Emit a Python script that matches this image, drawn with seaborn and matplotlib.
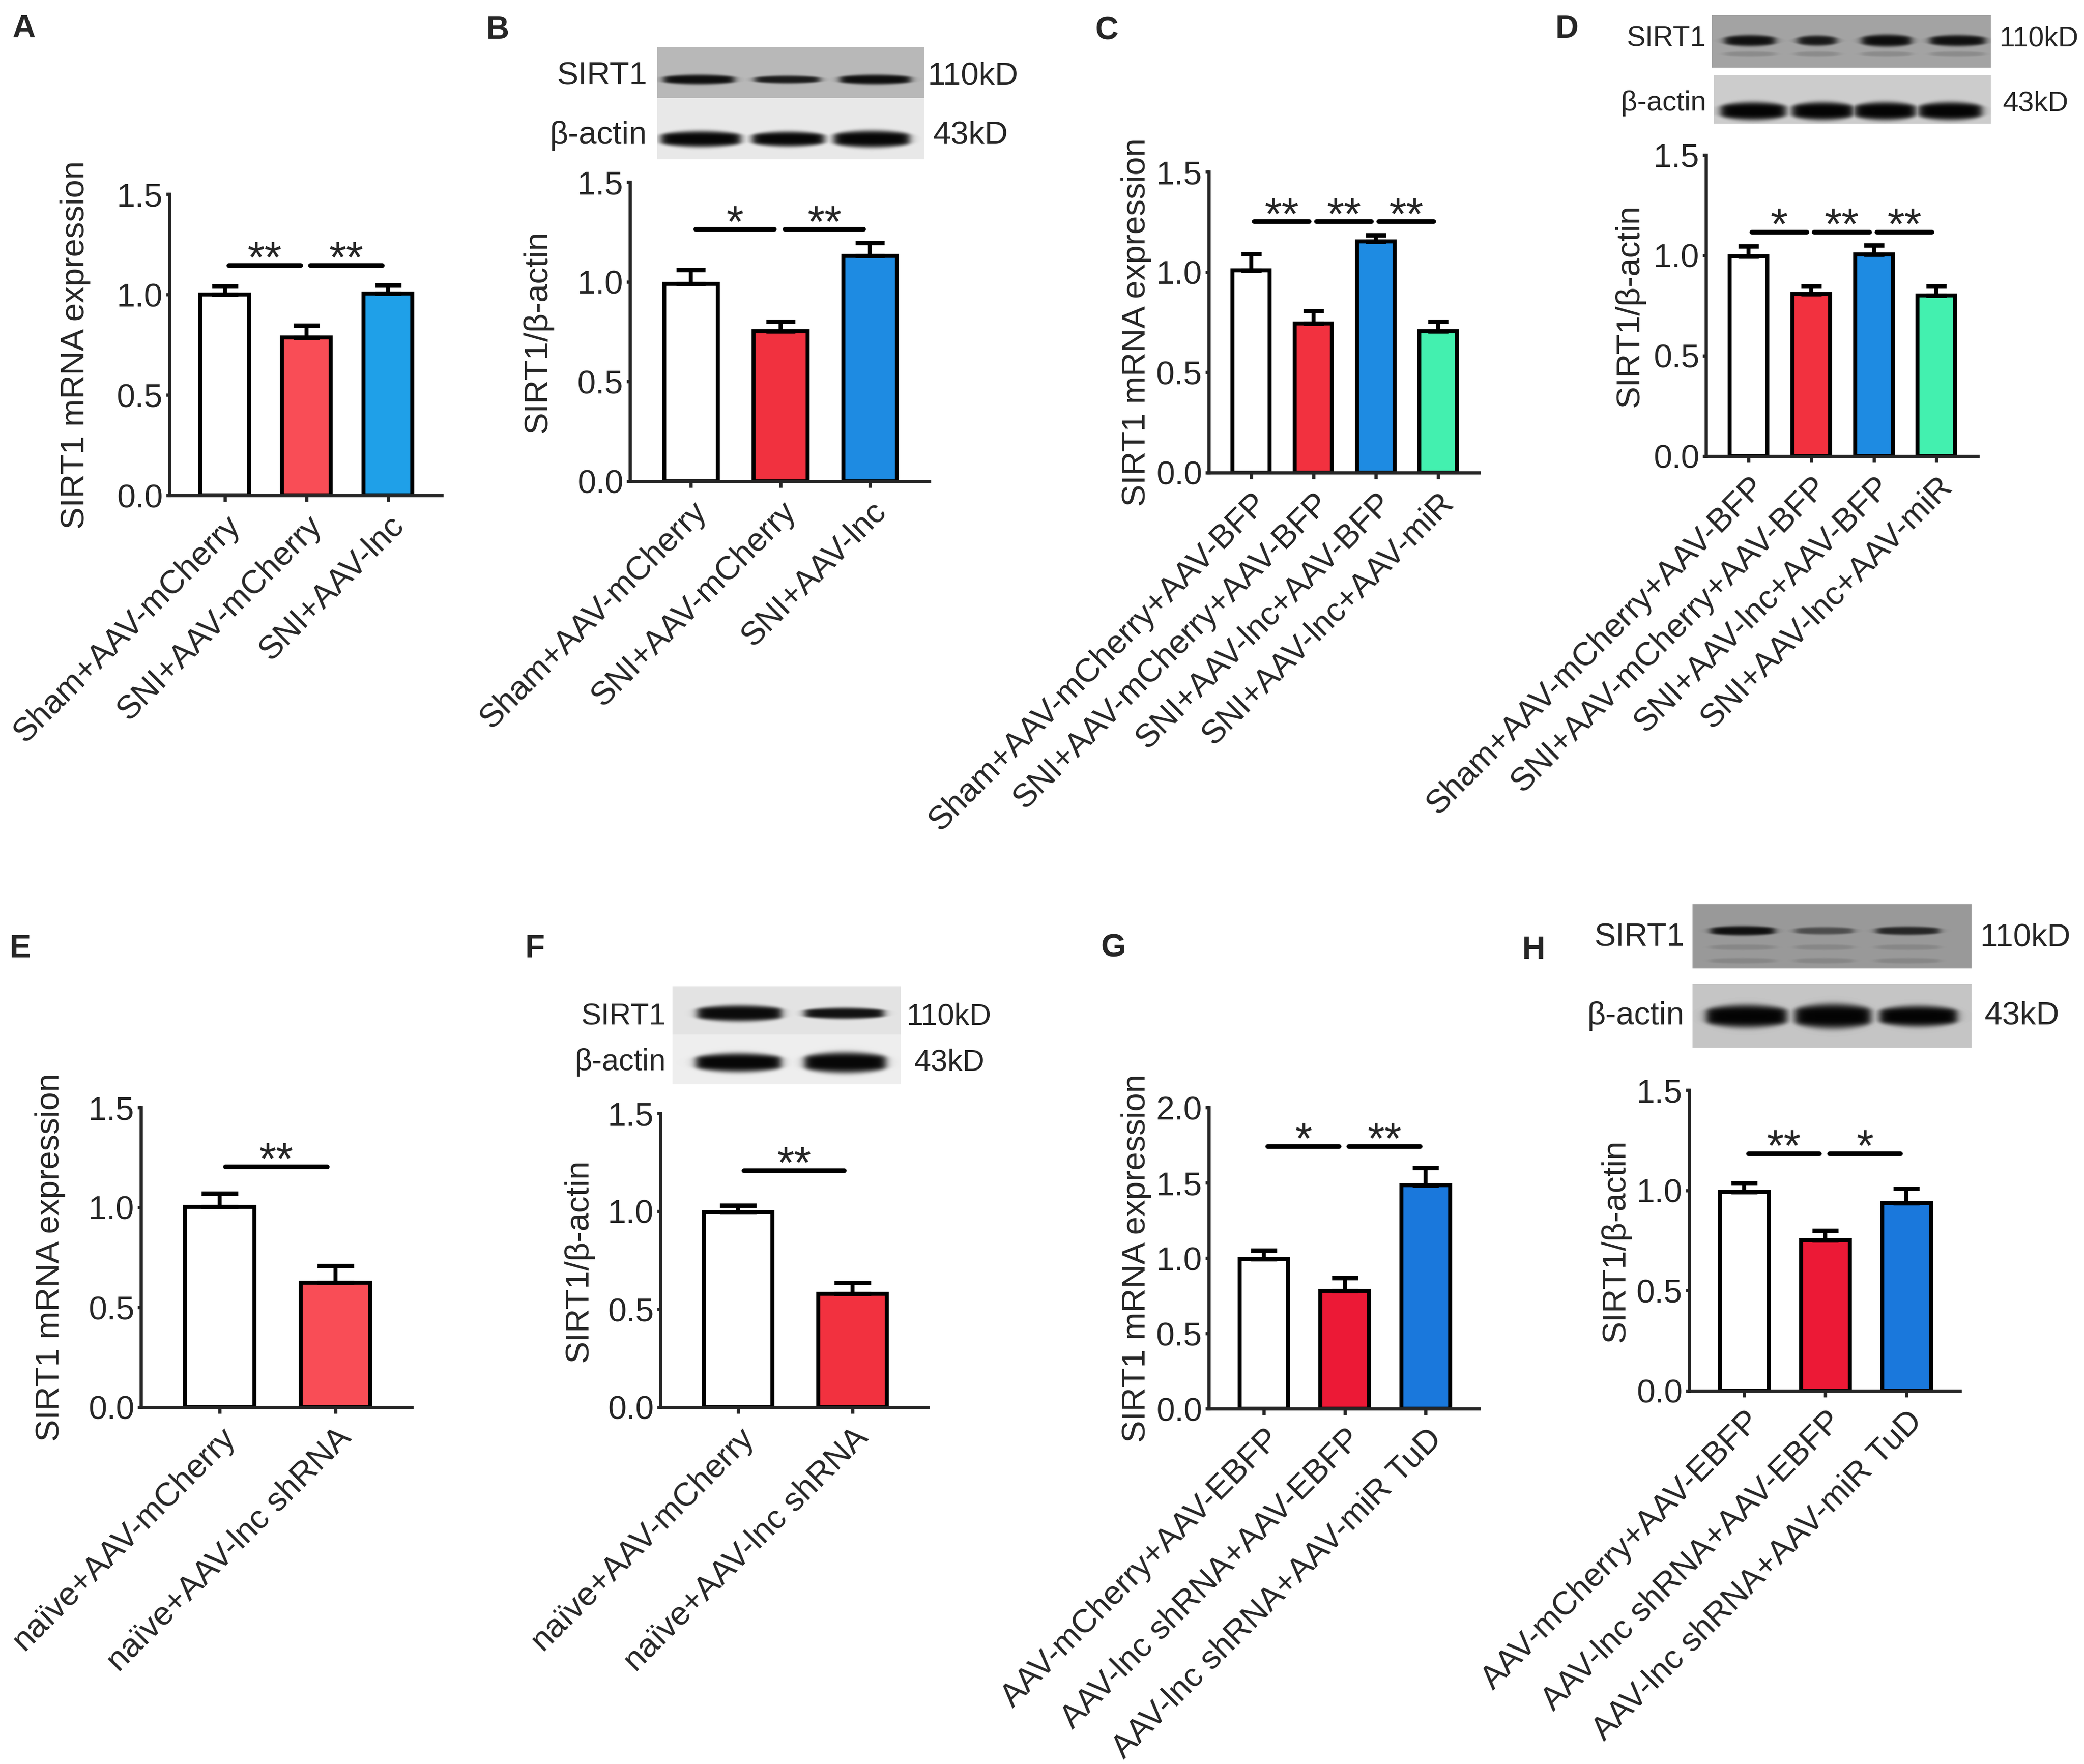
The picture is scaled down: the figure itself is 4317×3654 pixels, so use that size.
import numpy as np
import pandas as pd
import matplotlib
matplotlib.use("Agg")
import matplotlib.pyplot as plt
import seaborn as sns

W, H = 4317, 3654
DPI = 300

sns.set_style("ticks")
plt.rcParams["font.family"] = ["Liberation Sans", "DejaVu Sans"]

# group names on the x axes
groups_AB = ["Sham+AAV-mCherry", "SNI+AAV-mCherry", "SNI+AAV-lnc"]
groups_CD = ["Sham+AAV-mCherry+AAV-BFP", "SNI+AAV-mCherry+AAV-BFP",
             "SNI+AAV-lnc+AAV-BFP", "SNI+AAV-lnc+AAV-miR"]
groups_EF = ["naïve+AAV-mCherry", "naïve+AAV-lnc shRNA"]
groups_GH = ["AAV-mCherry+AAV-EBFP", "AAV-lnc shRNA+AAV-EBFP",
             "AAV-lnc shRNA+AAV-miR TuD"]

# bar heights (mean) and upper error (SEM)
mean_A = [1.00, 0.785, 1.005]
sem_A = [0.04, 0.06, 0.04]
mean_B = [0.99, 0.752, 1.13]
sem_B = [0.07, 0.05, 0.065]
mean_C = [1.01, 0.744, 1.154, 0.705]
sem_C = [0.08, 0.063, 0.03, 0.048]
mean_D = [0.994, 0.808, 1.004, 0.80]
sem_D = [0.051, 0.039, 0.046, 0.047]
mean_E = [1.002, 0.623]
sem_E = [0.068, 0.085]
mean_F = [0.995, 0.578]
sem_F = [0.035, 0.058]
mean_G = [0.995, 0.782, 1.485]
sem_G = [0.056, 0.085, 0.115]
mean_H = [0.993, 0.752, 0.937]
sem_H = [0.043, 0.048, 0.072]

# significance brackets (left bar, right bar, stars) and their height
sig_A = [(0, 1, "**"), (1, 2, "**")]
sig_B = [(0, 1, "*"), (1, 2, "**")]
sig_C = [(0, 1, "**"), (1, 2, "**"), (2, 3, "**")]
sig_D = [(0, 1, "*"), (1, 2, "**"), (2, 3, "**")]
sig_E = [(0, 1, "**")]
sig_F = [(0, 1, "**")]
sig_G = [(0, 1, "*"), (1, 2, "**")]
sig_H = [(0, 1, "**"), (1, 2, "*")]
sig_y = {"A": 1.145, "B": 1.262, "C": 1.251, "D": 1.116,
         "E": 1.203, "F": 1.207, "G": 1.741, "H": 1.183}

# bar colours
col_A = ["#FFFFFF", "#F94D56", "#1FA0E8"]
col_B = ["#FFFFFF", "#F1313F", "#1E8BE2"]
col_C = ["#FFFFFF", "#F2313F", "#1E8BE2", "#43F0AF"]
col_E = ["#FFFFFF", "#F94D56"]
col_F = ["#FFFFFF", "#F2313F"]
col_G = ["#FFFFFF", "#EC1936", "#1A78DC"]

mrna = "SIRT1 mRNA expression"
ratio = "SIRT1/β-actin"

fig = plt.figure(figsize=(W / DPI, H / DPI), dpi=DPI)
fig.patch.set_facecolor("white")


def px_rect(l, t, r, b):
    return [l / W, 1 - b / H, (r - l) / W, (b - t) / H]


def draw_panel(letter, groups, means, sems, colors, sig, ymax, ystep, ylabel,
               rect, ylab_x, letter_xy):
    ax = fig.add_axes(px_rect(*rect))
    df = pd.DataFrame({"group": groups, "value": means})
    sns.barplot(data=df, x="group", y="value", hue="group",
                palette=dict(zip(groups, colors)), legend=False, width=0.6,
                edgecolor="black", linewidth=2.0, errorbar=None,
                saturation=1, ax=ax)
    n = len(groups)
    x = np.arange(n)
    left_pad, right_pad = 0.68, 0.66
    spacing = (rect[2] - rect[0]) / (n - 1 + left_pad + right_pad)
    cap = 0.16 * spacing * 72 / DPI
    ax.errorbar(x, means, yerr=[np.zeros(n), sems], fmt="none",
                ecolor="black", elinewidth=2.0, capsize=cap, capthick=2.2,
                zorder=3)

    ys = sig_y[letter]
    for i, j, stars in sig:
        ax.plot([i + 0.05, j - 0.07], [ys, ys], color="black", lw=2.3,
                solid_capstyle="round", zorder=4)
        ax.annotate(stars, xy=((i + j) / 2 - 0.01, ys), xytext=(0, -3.5),
                    textcoords="offset points", ha="center", va="baseline",
                    fontsize=22)

    ax.set_xlim(-left_pad, n - 1 + right_pad)
    ax.set_ylim(0, ymax)
    ticks = np.arange(0, ymax + 1e-6, ystep)
    ax.set_yticks(ticks)
    ax.set_yticklabels([f"{t:.1f}" for t in ticks])
    ax.set_xticks(x)
    ax.set_xticklabels(groups, rotation=45, ha="right", rotation_mode="anchor")
    ax.set_xlabel("")
    ax.set_ylabel(ylabel, fontsize=16.5)
    ax.yaxis.set_label_coords((ylab_x + 38 - rect[0]) / (rect[2] - rect[0]), 0.5)
    sns.despine(ax=ax)
    for s in ["left", "bottom"]:
        ax.spines[s].set_linewidth(1.6)
    ax.tick_params(axis="x", length=3.2, width=1.6, pad=4, labelsize=16.5)
    ax.tick_params(axis="y", length=1.8, width=1.6, pad=1.5, labelsize=16.5)
    fig.text(letter_xy[0] / W, 1 - letter_xy[1] / H, letter, fontsize=16,
             fontweight="bold", ha="center", va="center")
    return ax


def draw_blot(strips, labels, fontsize):
    for st in strips:
        l, t, r, b = st["rect"]
        xs = np.arange(l, r, 1.0) + 0.5
        ys = np.arange(t, b, 1.0) + 0.5
        X, Y = np.meshgrid(xs, ys)
        img = np.full(X.shape, st["bg"])
        dark = np.zeros(X.shape)
        for xc, hw, yc, hh, k in st["bands"]:
            u = (X - xc) / hw
            fx = 0.5 * (1 - np.tanh((np.abs(X - xc) - hw) / 10.0))
            thick = hh * np.clip(1 - 0.35 * u ** 2, 0.2, 1)
            fy = np.exp(-(np.abs(Y - yc) / thick) ** 4)
            dark = np.maximum(dark, k * fx * fy)
        img = img * (1 - dark)
        bx = fig.add_axes(px_rect(l, t, r, b))
        bx.imshow(img, cmap="gray", vmin=0, vmax=1, aspect="auto",
                  interpolation="bilinear")
        bx.set_axis_off()
    for name, xr, yc, kd, xl in labels:
        fig.text(xr / W, 1 - yc / H, name, fontsize=fontsize, ha="right",
                 va="center")
        fig.text(xl / W, 1 - yc / H, kd, fontsize=fontsize, ha="left",
                 va="center")


draw_panel("A", groups_AB, mean_A, sem_A, col_A, sig_A, 1.5, 0.5, mrna,
           (351, 402, 915, 1026), 150, (49, 60))
draw_panel("B", groups_AB, mean_B, sem_B, col_B, sig_B, 1.5, 0.5, ratio,
           (1305, 377, 1925, 997), 1108, (1031, 63))
draw_panel("C", groups_CD, mean_C, sem_C, col_C, sig_C, 1.5, 0.5, mrna,
           (2504, 356, 3064, 979), 2348, (2292, 65))
draw_panel("D", groups_CD, mean_D, sem_D, col_C, sig_D, 1.5, 0.5, ratio,
           (3534, 321, 4097, 945), 3370, (3246, 61))
draw_panel("E", groups_EF, mean_E, sem_E, col_E, sig_E, 1.5, 0.5, mrna,
           (292, 2294, 853, 2915), 98, (42, 1966))
draw_panel("F", groups_EF, mean_F, sem_F, col_F, sig_F, 1.5, 0.5, ratio,
           (1368, 2306, 1922, 2915), 1193, (1108, 1966))
draw_panel("G", groups_GH, mean_G, sem_G, col_G, sig_G, 2.0, 0.5, mrna,
           (2504, 2294, 3064, 2918), 2348, (2306, 1964))
draw_panel("H", groups_GH, mean_H, sem_H, col_G, sig_H, 1.5, 0.5, ratio,
           (3499, 2258, 4060, 2881), 3341, (3177, 1969))

# western blot strips (decoration above the ratio panels)
draw_blot([
    dict(rect=(1361, 97, 1915, 203), bg=0.72,
         bands=[(1448, 73, 165, 11, 0.92), (1631, 67, 165, 9, 0.85),
                (1813, 73, 165, 11, 0.92)]),
    dict(rect=(1361, 203, 1915, 330), bg=0.91,
         bands=[(1452, 82, 288, 17, 0.97), (1633, 74, 288, 16, 0.97),
                (1806, 78, 288, 18, 0.97)]),
], [("SIRT1", 1340, 158, "110kD", 1922), ("β-actin", 1340, 281, "43kD", 1933)], 16)

draw_blot([
    dict(rect=(3546, 31, 4124, 140), bg=0.64,
         bands=[(3625, 52, 84, 12, 0.9), (3764, 40, 84, 11, 0.85),
                (3908, 51, 84, 13, 0.92), (4055, 57, 84, 12, 0.9),
                (3625, 52, 112, 6, 0.15), (3764, 45, 112, 6, 0.15),
                (3908, 51, 112, 6, 0.15), (4055, 55, 112, 6, 0.15)]),
    dict(rect=(3550, 155, 4124, 256), bg=0.80,
         bands=[(3632, 67, 230, 19, 0.98), (3776, 63, 230, 19, 0.98),
                (3905, 63, 230, 19, 0.98), (4040, 65, 230, 19, 0.98)]),
], [("SIRT1", 3534, 81, "110kD", 4142), ("β-actin", 3534, 214, "43kD", 4149)], 14)

draw_blot([
    dict(rect=(1393, 2043, 1866, 2143), bg=0.89,
         bands=[(1532, 87, 2099, 17, 0.95), (1749, 82, 2099, 12, 0.92)]),
    dict(rect=(1393, 2143, 1866, 2246), bg=0.93,
         bands=[(1530, 88, 2201, 20, 0.97), (1751, 84, 2201, 22, 0.97)]),
], [("SIRT1", 1379, 2106, "110kD", 1877), ("β-actin", 1379, 2201, "43kD", 1894)], 15)

draw_blot([
    dict(rect=(3506, 1873, 4084, 2006), bg=0.60,
         bands=[(3610, 66, 1928, 10, 0.9), (3779, 60, 1928, 8, 0.5),
                (3952, 65, 1928, 9, 0.75),
                (3610, 66, 1962, 6, 0.12), (3779, 60, 1962, 6, 0.12),
                (3952, 65, 1962, 6, 0.12),
                (3610, 66, 1990, 6, 0.12), (3779, 60, 1990, 6, 0.12),
                (3952, 65, 1990, 6, 0.12)]),
    dict(rect=(3506, 2038, 4084, 2170), bg=0.77,
         bands=[(3618, 83, 2105, 24, 0.98), (3797, 78, 2105, 26, 0.98),
                (3974, 80, 2105, 22, 0.98)]),
], [("SIRT1", 3489, 1943, "110kD", 4102), ("β-actin", 3489, 2105, "43kD", 4110)], 16)

fig.savefig("out.png", dpi=DPI)
